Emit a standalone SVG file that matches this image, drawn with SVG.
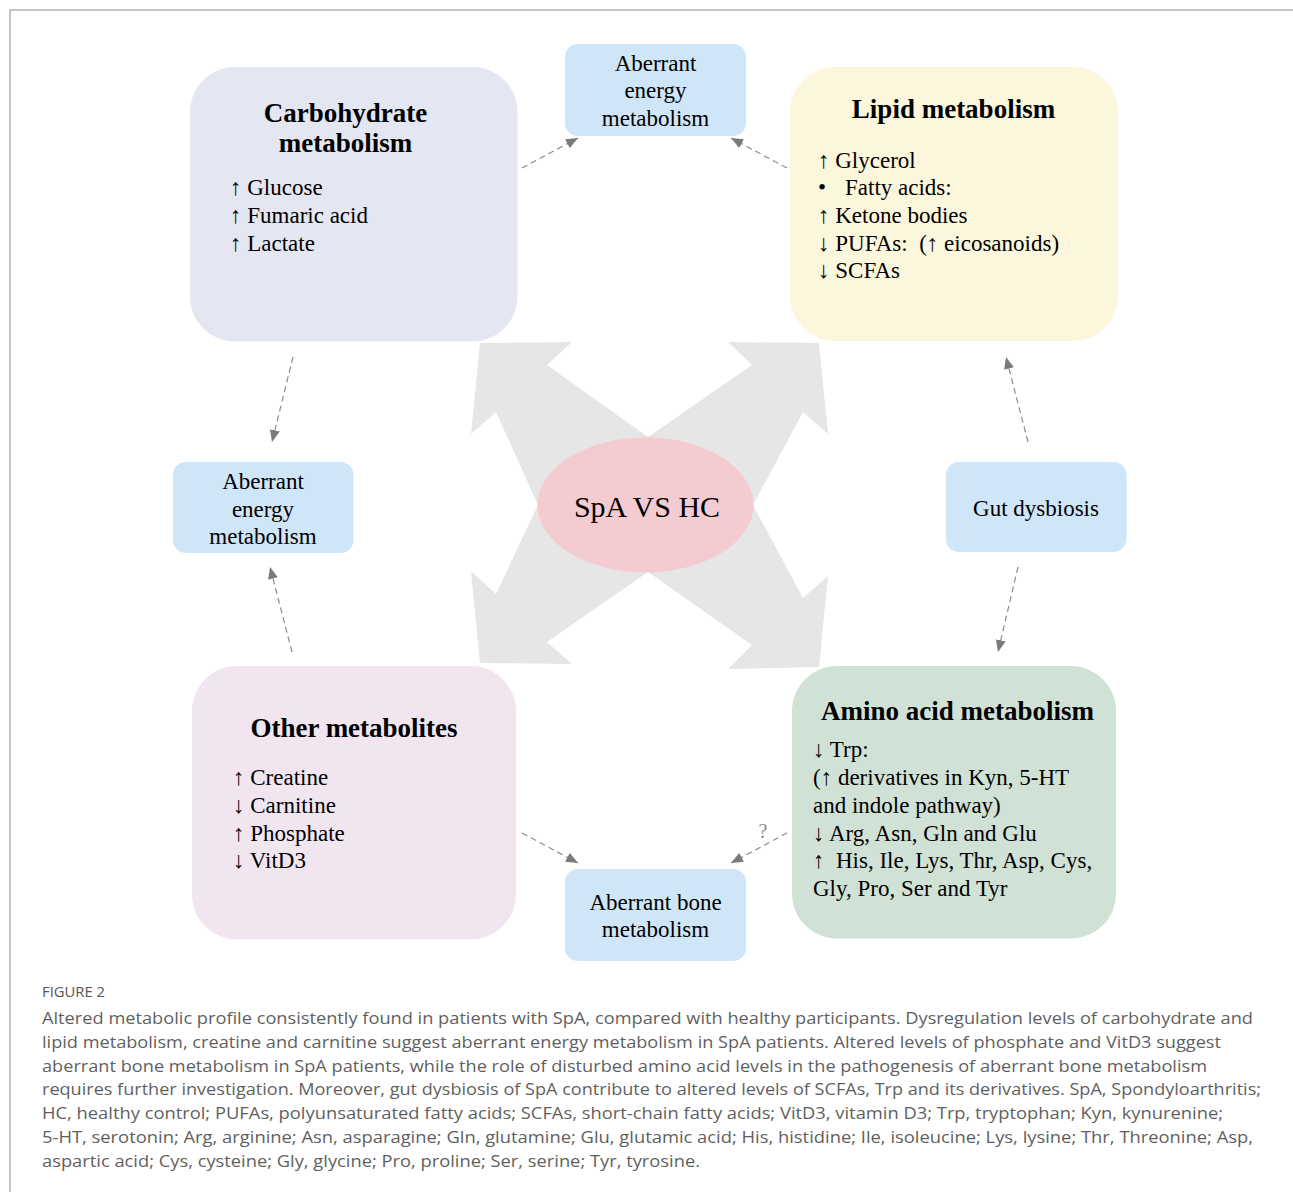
<svg xmlns="http://www.w3.org/2000/svg" width="1293" height="1192" viewBox="0 0 1293 1192">
<style>
  .serif{font-family:"Liberation Serif","Times New Roman",serif;fill:#000;}
  .title{font-size:27px;font-weight:bold;text-anchor:middle;}
  .item{font-size:23px;white-space:pre;}
  .lbl{font-size:23px;text-anchor:middle;}
  .conn{fill:none;stroke:#8c8c8c;stroke-width:1.2;stroke-dasharray:6 4;marker-end:url(#ah);}
  .cap{font-family:"Open Sans","Liberation Sans",sans-serif;font-size:17px;fill:#5f5f5f;}
  .blue{fill:#cfe5f8;}
</style>
<defs>
  <marker id="ah" markerUnits="userSpaceOnUse" markerWidth="13" markerHeight="11" refX="12" refY="5" orient="auto" viewBox="0 0 13 11">
    <path d="M0,0 L12,5 L0,10 Z" fill="#7a7a7a"/>
  </marker>
</defs>
<rect width="1293" height="1192" fill="#fff"/>
<path d="M10,1192 V10 H1293" fill="none" stroke="#b3b3b3" stroke-width="1.5"/>

<g id="bigArrows">
  <polygon fill="#e6e6e6" points="480,343 572,342 547,365 648,437 752,365 728,342 819,343 828,434 803,412 753,505 803,598 828,576 819,667 728,669 752,645 648,572 547,642 572,664 480,663 471,571 496,594 538,505 496,412 471,434"/>
</g>

<g id="center">
  <ellipse cx="645.5" cy="505" rx="108" ry="67.5" fill="#f4cbd0"/>
  <text class="serif" x="647" y="517" font-size="30" text-anchor="middle">SpA VS HC</text>
</g>

<g id="carbohydrate">
  <rect x="190" y="67" width="327.5" height="274.5" rx="45" fill="#e4e6f2"/>
  <text class="serif title" x="345.5" y="122">Carbohydrate</text>
  <text class="serif title" x="345.5" y="152">metabolism</text>
  <text class="serif item" x="230" y="195">↑ Glucose</text>
  <text class="serif item" x="230" y="223">↑ Fumaric acid</text>
  <text class="serif item" x="230" y="251">↑ Lactate</text>
</g>

<g id="lipid">
  <rect x="790" y="67" width="328" height="274" rx="45" fill="#fcf7dc"/>
  <text class="serif title" x="953.5" y="118">Lipid metabolism</text>
  <text class="serif item" x="818" y="168">↑ Glycerol</text>
  <text class="serif item" x="818" y="195">•  <tspan x="845">Fatty acids:</tspan></text>
  <text class="serif item" x="818" y="223">↑ Ketone bodies</text>
  <text class="serif item" x="818" y="251">↓ PUFAs:  (↑ eicosanoids)</text>
  <text class="serif item" x="818" y="278">↓ SCFAs</text>
</g>

<g id="amino">
  <rect x="792" y="666" width="324" height="272.5" rx="45" fill="#d0e2d6"/>
  <text class="serif title" x="957.5" y="720">Amino acid metabolism</text>
  <text class="serif item" x="813" y="757">↓ Trp:</text>
  <text class="serif item" x="813" y="785">(↑ derivatives in Kyn, 5-HT</text>
  <text class="serif item" x="813" y="813">and indole pathway)</text>
  <text class="serif item" x="813" y="841">↓ Arg, Asn, Gln and Glu</text>
  <text class="serif item" x="813" y="868">↑  His, Ile, Lys, Thr, Asp, Cys,</text>
  <text class="serif item" x="813" y="896">Gly, Pro, Ser and Tyr</text>
</g>

<g id="other">
  <rect x="192" y="666" width="324" height="273.5" rx="45" fill="#f1e6f0"/>
  <text class="serif title" x="354" y="737">Other metabolites</text>
  <text class="serif item" x="233" y="785">↑ Creatine</text>
  <text class="serif item" x="233" y="813">↓ Carnitine</text>
  <text class="serif item" x="233" y="841">↑ Phosphate</text>
  <text class="serif item" x="233" y="868">↓ VitD3</text>
</g>

<g id="energyTop">
  <rect class="blue" x="565" y="44" width="181" height="92" rx="13"/>
  <text class="serif lbl" x="655.5" y="71">Aberrant</text>
  <text class="serif lbl" x="655.5" y="98">energy</text>
  <text class="serif lbl" x="655.5" y="126">metabolism</text>
</g>

<g id="energyLeft">
  <rect class="blue" x="173" y="462" width="180.5" height="91" rx="13"/>
  <text class="serif lbl" x="263" y="489">Aberrant</text>
  <text class="serif lbl" x="263" y="517">energy</text>
  <text class="serif lbl" x="263" y="544">metabolism</text>
</g>

<g id="gut">
  <rect class="blue" x="946" y="462" width="180.5" height="90" rx="13"/>
  <text class="serif lbl" x="1036" y="516">Gut dysbiosis</text>
</g>

<g id="bone">
  <rect class="blue" x="565" y="869" width="181" height="92" rx="13"/>
  <text class="serif lbl" x="655.5" y="910">Aberrant bone</text>
  <text class="serif lbl" x="655.5" y="937">metabolism</text>
</g>

<g id="connectors">
  <line class="conn" x1="522" y1="168" x2="578" y2="138"/>
  <line class="conn" x1="787" y1="168" x2="731" y2="138"/>
  <line class="conn" x1="293" y1="357" x2="272" y2="442"/>
  <line class="conn" x1="292" y1="652" x2="270" y2="567"/>
  <line class="conn" x1="1028" y1="442" x2="1006" y2="357"/>
  <line class="conn" x1="1018" y1="567" x2="998" y2="652"/>
  <line class="conn" x1="522" y1="833" x2="578" y2="863"/>
  <line class="conn" x1="787" y1="833" x2="731" y2="863"/>
  <text class="serif" x="763" y="838" font-size="20" style="fill:#8c8c8c" text-anchor="middle">?</text>
</g>

<g id="caption">
  <text class="cap" x="42" y="997" textLength="63" lengthAdjust="spacingAndGlyphs" style="font-size:14px;fill:#555">FIGURE 2</text>
  <text class="cap" x="42" y="1024" textLength="1211" lengthAdjust="spacingAndGlyphs">Altered metabolic profile consistently found in patients with SpA, compared with healthy participants. Dysregulation levels of carbohydrate and</text>
  <text class="cap" x="42" y="1048" textLength="1179" lengthAdjust="spacingAndGlyphs">lipid metabolism, creatine and carnitine suggest aberrant energy metabolism in SpA patients. Altered levels of phosphate and VitD3 suggest</text>
  <text class="cap" x="42" y="1072" textLength="1165" lengthAdjust="spacingAndGlyphs">aberrant bone metabolism in SpA patients, while the role of disturbed amino acid levels in the pathogenesis of aberrant bone metabolism</text>
  <text class="cap" x="42" y="1095" textLength="1219" lengthAdjust="spacingAndGlyphs">requires further investigation. Moreover, gut dysbiosis of SpA contribute to altered levels of SCFAs, Trp and its derivatives. SpA, Spondyloarthritis;</text>
  <text class="cap" x="42" y="1119" textLength="1181" lengthAdjust="spacingAndGlyphs">HC, healthy control; PUFAs, polyunsaturated fatty acids; SCFAs, short-chain fatty acids; VitD3, vitamin D3; Trp, tryptophan; Kyn, kynurenine;</text>
  <text class="cap" x="42" y="1143" textLength="1211" lengthAdjust="spacingAndGlyphs">5-HT, serotonin; Arg, arginine; Asn, asparagine; Gln, glutamine; Glu, glutamic acid; His, histidine; Ile, isoleucine; Lys, lysine; Thr, Threonine; Asp,</text>
  <text class="cap" x="42" y="1167" textLength="658" lengthAdjust="spacingAndGlyphs">aspartic acid; Cys, cysteine; Gly, glycine; Pro, proline; Ser, serine; Tyr, tyrosine.</text>
</g>
</svg>
